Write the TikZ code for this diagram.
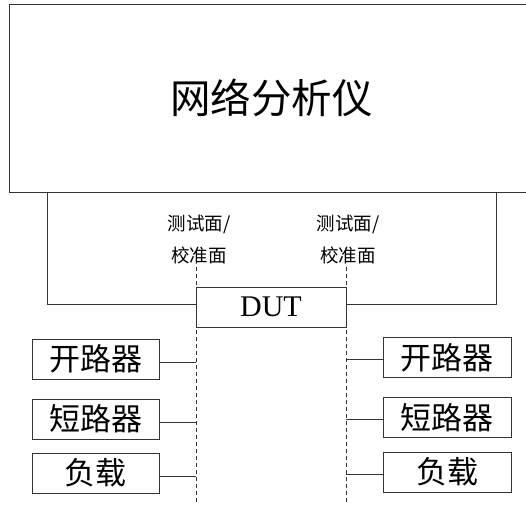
\documentclass[tikz,border=0pt]{standalone}
\usepackage{fontspec}
\setmainfont{Liberation Serif}
\newfontfamily\cjk{Noto Sans CJK SC}
\begin{document}
\begin{tikzpicture}[x=1pt,y=-1pt,
  line/.style={line width=0.9pt,draw=black!80},
  box/.style={line,draw,rectangle,inner sep=0pt,minimum width=127pt,minimum height=40pt,font=\cjk\fontsize{31}{33}\selectfont},
  plane/.style={line width=0.8pt,draw=black!80,dash pattern=on 4pt off 3pt},
  lbl/.style={align=center,inner sep=0pt,font=\cjk\fontsize{18.5}{32}\selectfont}]
\clip (0,0) rectangle (526,504);
\node[line,draw,rectangle,minimum width=525pt,minimum height=187.7pt,inner sep=0pt,font=\cjk\fontsize{40.5}{42}\selectfont] (an) at (271.7,98.2) {网络分析仪};
\node[line,draw,rectangle,minimum width=150pt,minimum height=40pt,inner sep=0pt,font=\fontsize{30}{32}\selectfont] (dut) at (271,307) {DUT};
\coordinate (dLt) at (196,267);
\coordinate (dLb) at (196,505);
\coordinate (dRt) at (346,267);
\coordinate (dRb) at (346,505);
\coordinate (fL) at (47,304);
\coordinate (fR) at (496,304);
\draw[plane] (dLt) -- (dLb);
\draw[plane] (dRt) -- (dRb);
\draw[line] (an.south -| fL) -- (fL) -- (fL -| dut.west);
\draw[line] (an.south -| fR) -- (fR) -- (fR -| dut.east);
\node[lbl] (tL) at (199,239.5) {测试面/\\校准面};
\node[lbl] (tR) at (348,239.5) {测试面/\\校准面};
\node[box] (oL) at (95.5,359) {开路器};
\node[box] (sL) at (95.5,419) {短路器};
\node[box] (lL) at (95.5,473) {负载};
\node[box,minimum width=128pt] (oR) at (447,357.5) {开路器};
\node[box,minimum width=128pt] (sR) at (447,417.5) {短路器};
\node[box,minimum width=128pt] (lR) at (447,472) {负载};
\draw[line] ([yshift=-3pt]oL.east) -- ([yshift=-3pt]oL.east -| dLt);
\draw[line] ([yshift=-3pt]sL.east) -- ([yshift=-3pt]sL.east -| dLt);
\draw[line] ([yshift=-3pt]lL.east) -- ([yshift=-3pt]lL.east -| dLt);
\draw[line] ([yshift=-2pt]oR.west) -- ([yshift=-2pt]oR.west -| dRt);
\draw[line] ([yshift=-1.5pt]sR.west) -- ([yshift=-1.5pt]sR.west -| dRt);
\draw[line] ([yshift=-2pt]lR.west) -- ([yshift=-2pt]lR.west -| dRt);
\end{tikzpicture}
\end{document}
